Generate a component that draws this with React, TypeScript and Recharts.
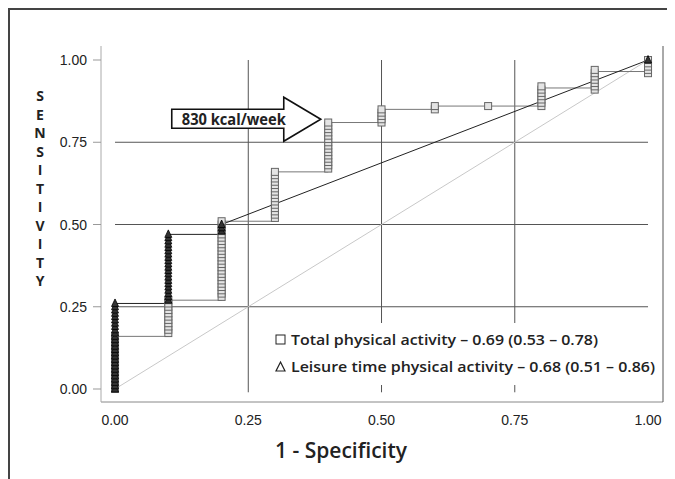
import React from "react";
import {
  Legend,
  ReferenceDot,
  ReferenceLine,
  Scatter,
  ScatterChart,
  XAxis,
  YAxis,
} from "recharts";

// ticks on both axes
const axisTicks = [0, 0.25, 0.5, 0.75, 1];

// total physical activity: ROC step path
const totalCurveX = [0, 0, 0.1, 0.1, 0.2, 0.2, 0.3, 0.3, 0.4, 0.4, 0.5, 0.5, 0.6, 0.6, 0.8, 0.8, 0.9, 0.9, 1, 1];
const totalCurveY = [0, 0.16, 0.16, 0.27, 0.27, 0.51, 0.51, 0.66, 0.66, 0.81, 0.81, 0.85, 0.85, 0.86, 0.86, 0.915, 0.915, 0.965, 0.965, 1];

// total physical activity: stacked square markers at each cut-off
const totalX = [0, 0.1, 0.2, 0.3, 0.4, 0.5, 0.6, 0.7, 0.8, 0.9, 1];
const totalStacks = [
  [0, 0.01, 0.02, 0.03, 0.04, 0.05, 0.06, 0.07, 0.08, 0.09, 0.1, 0.11, 0.12, 0.13, 0.14, 0.15, 0.16],
  [0.17, 0.18, 0.19, 0.2, 0.21, 0.22, 0.23, 0.24, 0.25, 0.26, 0.27],
  [0.28, 0.29, 0.3, 0.31, 0.32, 0.33, 0.34, 0.35, 0.36, 0.37, 0.38, 0.39, 0.4, 0.41, 0.42, 0.43, 0.44, 0.45, 0.46, 0.47, 0.48, 0.49, 0.5, 0.51],
  [0.52, 0.53, 0.54, 0.55, 0.56, 0.57, 0.58, 0.59, 0.6, 0.61, 0.62, 0.63, 0.64, 0.65, 0.66],
  [0.67, 0.68, 0.69, 0.7, 0.71, 0.72, 0.73, 0.74, 0.75, 0.76, 0.77, 0.78, 0.79, 0.8, 0.81],
  [0.81, 0.82, 0.83, 0.84, 0.85],
  [0.85, 0.86],
  [0.86],
  [0.86, 0.87, 0.88, 0.89, 0.9, 0.91, 0.92],
  [0.91, 0.92, 0.93, 0.94, 0.95, 0.96, 0.97],
  [0.96, 0.97, 0.98, 0.99, 1],
];

// leisure time physical activity: ROC path
const leisureCurveX = [0, 0, 0.1, 0.1, 0.2, 0.2, 1];
const leisureCurveY = [0, 0.26, 0.26, 0.47, 0.47, 0.5, 1];

// leisure time physical activity: stacked triangle markers
const leisureX = [0, 0.1, 0.2, 1];
const leisureStacks = [
  [0, 0.01, 0.02, 0.03, 0.04, 0.05, 0.06, 0.07, 0.08, 0.09, 0.1, 0.11, 0.12, 0.13, 0.14, 0.15, 0.16, 0.17, 0.18, 0.19, 0.2, 0.21, 0.22, 0.23, 0.24, 0.25, 0.26],
  [0.27, 0.28, 0.29, 0.3, 0.31, 0.32, 0.33, 0.34, 0.35, 0.36, 0.37, 0.38, 0.39, 0.4, 0.41, 0.42, 0.43, 0.44, 0.45, 0.46, 0.47],
  [0.48, 0.49, 0.5],
  [1],
];

const legendLines = [
  "Total physical activity \u2013 0.69 (0.53 \u2013 0.78)",
  "Leisure time physical activity \u2013 0.68 (0.51 \u2013 0.86)",
];
const arrowLabel = "830 kcal/week";
const arrowAt = { x: 0.386, y: 0.82 };
const yTitle = "SENSITIVITY";
const xTitle = "1 - Specificity";

const toPoints = (xs: number[], ys: number[]) => xs.map((x, i) => ({ x, y: ys[i] }));
const toStackPoints = (xs: number[], stacks: number[][]) =>
  xs.flatMap((x, i) => stacks[i].map((y) => ({ x, y })));

const totalCurve = toPoints(totalCurveX, totalCurveY);
const leisureCurve = toPoints(leisureCurveX, leisureCurveY);
const totalPts = toStackPoints(totalX, totalStacks);
const leisurePts = toStackPoints(leisureX, leisureStacks);

const xDomain = [-0.0263, 1.0281];
const yDomain = [-0.0395, 1.0426];
const grid = "#555";
const tickFamily = "'Liberation Sans', Arial, sans-serif";
const boldFont = "'Open Sans', 'DejaVu Sans', sans-serif";

const Square = (p: any) => (
  <rect x={p.cx - 3.5} y={p.cy - 3.5} width={7} height={7} fill="#e4e4e4" stroke="#666" strokeWidth={1} />
);
const Triangle = (p: any) => (
  <path
    d={`M${p.cx},${p.cy - 4.5}L${p.cx + 3.5},${p.cy + 3}L${p.cx - 3.5},${p.cy + 3}Z`}
    fill="#333"
    stroke="#000"
    strokeWidth={0.8}
  />
);
const NoDot = () => <g />;
const NoTick = () => <g />;

const YTick = (p: any) => (
  <text x={77} y={p.y} dy={5} textAnchor="end" fontFamily={tickFamily} fontSize={14} fill="#222">
    {Number(p.payload.value).toFixed(2)}
  </text>
);
const XTick = (p: any) => (
  <text x={p.x} y={415} textAnchor="middle" fontFamily={tickFamily} fontSize={14} fill="#222">
    {Number(p.payload.value).toFixed(2)}
  </text>
);

const ArrowNote = (p: any) => {
  const { cx, cy } = p;
  const d = `M${cx},${cy} L${cx - 37},${cy - 22} L${cx - 37},${cy - 10} L${cx - 149},${cy - 10} L${cx - 149},${cy + 9} L${cx - 37},${cy + 9} L${cx - 37},${cy + 22} Z`;
  return (
    <g>
      <path d={d} fill="#fff" stroke="#111" strokeWidth={1.6} />
      <text
        x={cx - 139}
        y={cy + 5.5}
        textLength={104}
        lengthAdjust="spacingAndGlyphs"
        fontFamily={boldFont}
        fontWeight={700}
        fontSize={16}
        fill="#222"
      >
        {arrowLabel}
      </text>
    </g>
  );
};

const YTitle = (p: any) => {
  const top = p.viewBox ? p.viewBox.y : 36;
  return (
    <text fontFamily={boldFont} fontWeight={700} fontSize={14} fill="#222" textAnchor="middle">
      {yTitle.split("").map((ch, i) => (
        <tspan key={i} x={30} y={top + 55 + i * 18.5}>
          {ch}
        </tspan>
      ))}
    </text>
  );
};

const XTitle = () => (
  <text
    x={265}
    y={448}
    textLength={132}
    lengthAdjust="spacingAndGlyphs"
    fontFamily={boldFont}
    fontWeight={600}
    fontSize={21}
    fill="#222"
  >
    {xTitle}
  </text>
);

const LegendBox = () => (
  <svg width={392} height={62} style={{ display: "block" }}>
    <rect x={6} y={12} width={9} height={9} fill="none" stroke="#222" strokeWidth={1} />
    <text x={21} y={22} textLength={307} lengthAdjust="spacingAndGlyphs" fontFamily={boldFont} fontWeight={600} fontSize={15} fill="#222">
      {legendLines[0]}
    </text>
    <path d="M10.5,39 L15,48 L6,48 Z" fill="none" stroke="#222" strokeWidth={1.2} />
    <text x={21} y={49} textLength={364} lengthAdjust="spacingAndGlyphs" fontFamily={boldFont} fontWeight={600} fontSize={15} fill="#222">
      {legendLines[1]}
    </text>
  </svg>
);

export default function App() {
  return (
    <div
      style={{
        width: 680,
        height: 480,
        borderTop: "2px solid #444",
        borderLeft: "2px solid #444",
        boxSizing: "border-box",
        position: "relative",
        background: "#fff",
      }}
    >
      <ScatterChart width={660} height={465} margin={{ top: 36, right: 0, bottom: 0, left: 0 }}>
        <XAxis
          dataKey="x"
          type="number"
          domain={xDomain}
          ticks={axisTicks}
          height={73}
          tickLine={false}
          tick={<XTick />}
          axisLine={{ stroke: "#888" }}
          label={<XTitle />}
        />
        <XAxis
          xAxisId="top"
          orientation="top"
          dataKey="x"
          type="number"
          domain={xDomain}
          ticks={axisTicks}
          height={0}
          tickSize={3}
          tick={<NoTick />}
          tickLine={{ stroke: "#555" }}
          axisLine={{ stroke: "#555" }}
        />
        <YAxis
          dataKey="y"
          type="number"
          domain={yDomain}
          ticks={axisTicks}
          width={91}
          tickSize={8}
          tick={<YTick />}
          tickLine={{ stroke: "#999" }}
          axisLine={{ stroke: "#aaa" }}
          label={<YTitle />}
        />
        <YAxis
          yAxisId="right"
          orientation="right"
          dataKey="y"
          type="number"
          domain={yDomain}
          ticks={axisTicks}
          width={7}
          tickSize={8}
          tick={<NoTick />}
          tickLine={{ stroke: "#999" }}
          axisLine={{ stroke: "#555" }}
        />

        {[0.25, 0.5, 0.75].map((v) => (
          <ReferenceLine key={"v" + v} segment={[{ x: v, y: -0.01 }, { x: v, y: 1 }]} stroke={grid} strokeWidth={1} />
        ))}
        {[0.25, 0.5, 0.75].map((v) => (
          <ReferenceLine key={"h" + v} segment={[{ x: 0, y: v }, { x: 1, y: v }]} stroke={grid} strokeWidth={1} />
        ))}
        <ReferenceLine segment={[{ x: 0, y: 0 }, { x: 1, y: 1 }]} stroke="#c8c8c8" strokeWidth={1} />

        <Scatter data={totalCurve} line={{ stroke: "#777", strokeWidth: 1 }} lineType="joint" shape={NoDot} isAnimationActive={false} legendType="none" />
        <Scatter data={leisureCurve} line={{ stroke: "#222", strokeWidth: 1 }} lineType="joint" shape={NoDot} isAnimationActive={false} legendType="none" />
        <Scatter data={totalPts} shape={Square} isAnimationActive={false} />
        <Scatter data={leisurePts} shape={Triangle} isAnimationActive={false} />

        <ReferenceDot x={arrowAt.x} y={arrowAt.y} r={1} shape={ArrowNote} />

        <Legend
          layout="vertical"
          align="center"
          verticalAlign="middle"
          content={<LegendBox />}
          wrapperStyle={{ left: 260, top: 313, width: 392, height: 62, background: "#fff" }}
        />
      </ScatterChart>
    </div>
  );
}
